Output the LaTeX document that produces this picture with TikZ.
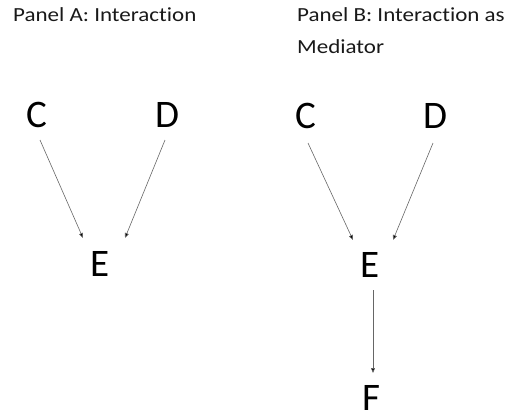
\documentclass[tikz,border=0pt]{standalone}
\usepackage{fontspec}
\setmainfont[Ligatures=NoCommon]{Carlito}
\newfontfamily\headfont[Ligatures=NoCommon,FakeStretch=1.15]{Carlito}
\usetikzlibrary{arrows.meta}
\begin{document}
\begin{tikzpicture}[x=1pt,y=-1pt,
  title/.style={anchor=base west,inner sep=0pt,font=\headfont\fontsize{20}{24}\selectfont,text=black!90},
  var/.style={inner sep=0pt,font=\fontsize{39}{44}\selectfont,text=black},
  arr/.style={draw=black!60,line width=0.6pt,-{Triangle[length=5pt,width=4pt,fill=black]}}]
\useasboundingbox (0,0) rectangle (509,413);
% panel headings
\node[title] (ta) at (13,21) {Panel A: Interaction};
\node[title] (tb) at (297,21) {Panel B: Interaction as};
\node[title] (tb2) at (297,53) {Mediator};
% panel A
\node[var] (ca) at (37,115) {C};
\node[var] (da) at (167,115) {D};
\node[var] (ea) at (100,264) {E};
\draw[arr] ([shift={(3,25)}]ca.center) -- ([shift={(-17,-26)}]ea.center);
\draw[arr] ([shift={(-2,25)}]da.center) -- ([shift={(25,-26)}]ea.center);
% panel B
\node[var] (cb) at (306,116) {C};
\node[var] (db) at (435,116) {D};
\node[var] (eb) at (370,265) {E};
\node[var] (fb) at (371,398) {F};
\draw[arr] ([shift={(2,27)}]cb.center) -- ([shift={(-17,-25)}]eb.center);
\draw[arr] ([shift={(-2,27)}]db.center) -- ([shift={(23,-25)}]eb.center);
\draw[arr] ([shift={(3,25)}]eb.center) -- ([shift={(2,-25)}]fb.center);
\end{tikzpicture}
\end{document}
